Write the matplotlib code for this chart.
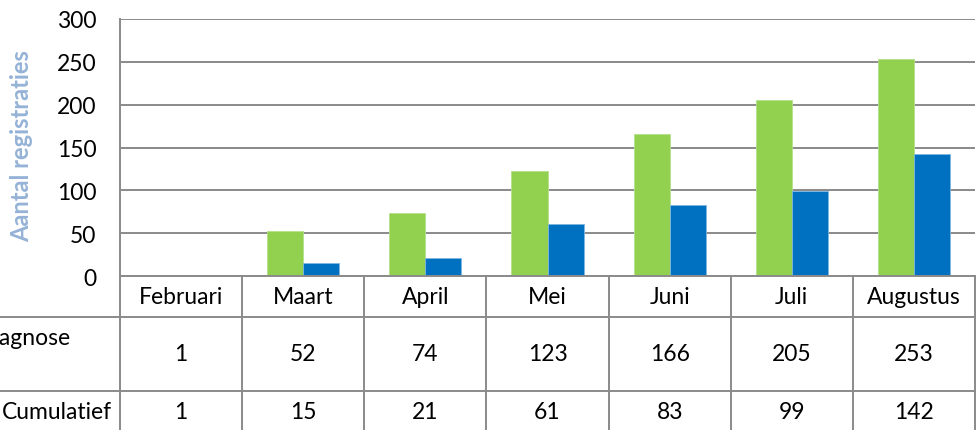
import matplotlib

matplotlib.use("Agg")
import matplotlib.pyplot as plt
import numpy as np

months = ["Februari", "Maart", "April", "Mei", "Juni", "Juli", "Augustus"]
diagnose = [1, 52, 74, 123, 166, 205, 253]
cumulatief = [1, 15, 21, 61, 83, 99, 142]
row_labels = ["Diagnose", "Cumulatief"]
y_ticks = [0, 50, 100, 150, 200, 250, 300]

GREEN = "#92D050"
BLUE = "#0070C0"
GRID = "#8A8A8A"
FONT = "Lato"
FS = 16.5

W, H = 979, 431
plt.rcParams["font.family"] = [FONT, "DejaVu Sans"]

fig = plt.figure(figsize=(W / 100, H / 100), dpi=100)


def px_rect(x0, y0, x1, y1):
    """Pixel box (top-left origin) -> figure fraction rect."""
    return [x0 / W, 1 - y1 / H, (x1 - x0) / W, (y1 - y0) / H]


# bar area
ax = fig.add_axes(px_rect(120, 20, 975, 277))
x = np.arange(len(months))
bw = 0.295
ax.bar(x - bw / 2, diagnose, bw, color=GREEN, edgecolor="#B5E08A", linewidth=0.6, zorder=3)
ax.bar(x + bw / 2, cumulatief, bw, color=BLUE, edgecolor="#7FB6E0", linewidth=0.6, zorder=3)
ax.set_xlim(-0.5, len(months) - 0.5)
ax.set_ylim(0, 300)
ax.set_yticks(y_ticks)
ax.yaxis.grid(True, color=GRID, linewidth=1.4, zorder=0)
ax.set_xticks([])
ax.tick_params(axis="y", length=0, pad=17, labelsize=FS)
for side in ("top", "right", "bottom"):
    ax.spines[side].set_visible(False)
ax.spines["left"].set_color(GRID)
ax.spines["left"].set_linewidth(1.4)

fig.text(22 / W, 1 - 146 / H, "Aantal registraties", rotation=90, ha="center", va="center",
         color="#95B3D7", fontsize=17, fontweight="bold")

# data table below the bars
tax = fig.add_axes(px_rect(120, 277, 975, 431))
tax.set_xlim(-0.5, len(months) - 0.5)
tax.set_ylim(431, 277)
tax.axis("off")
left_edge = -0.5 - 120 / 122.1
kw = dict(color=GRID, linewidth=1.4, clip_on=False)
tax.plot([-0.5, len(months) - 0.5], [277, 277], **kw)
for yy in (318, 392):
    tax.plot([left_edge, len(months) - 0.5], [yy, yy], **kw)
for xx in np.arange(len(months) + 1) - 0.5:
    tax.plot([xx, xx], [277, 440], **kw)

for i, m in enumerate(months):
    tax.text(i, 298, m, ha="center", va="center", fontsize=FS)
    tax.text(i, 355, str(diagnose[i]), ha="center", va="center", fontsize=FS)
    tax.text(i, 413, str(cumulatief[i]), ha="center", va="center", fontsize=FS)

fig.text(71 / W, 1 - 339 / H, row_labels[0], ha="right", va="center", fontsize=FS)
fig.text(112 / W, 1 - 413 / H, row_labels[1], ha="right", va="center", fontsize=FS)

fig.savefig("out.png", dpi=100)
